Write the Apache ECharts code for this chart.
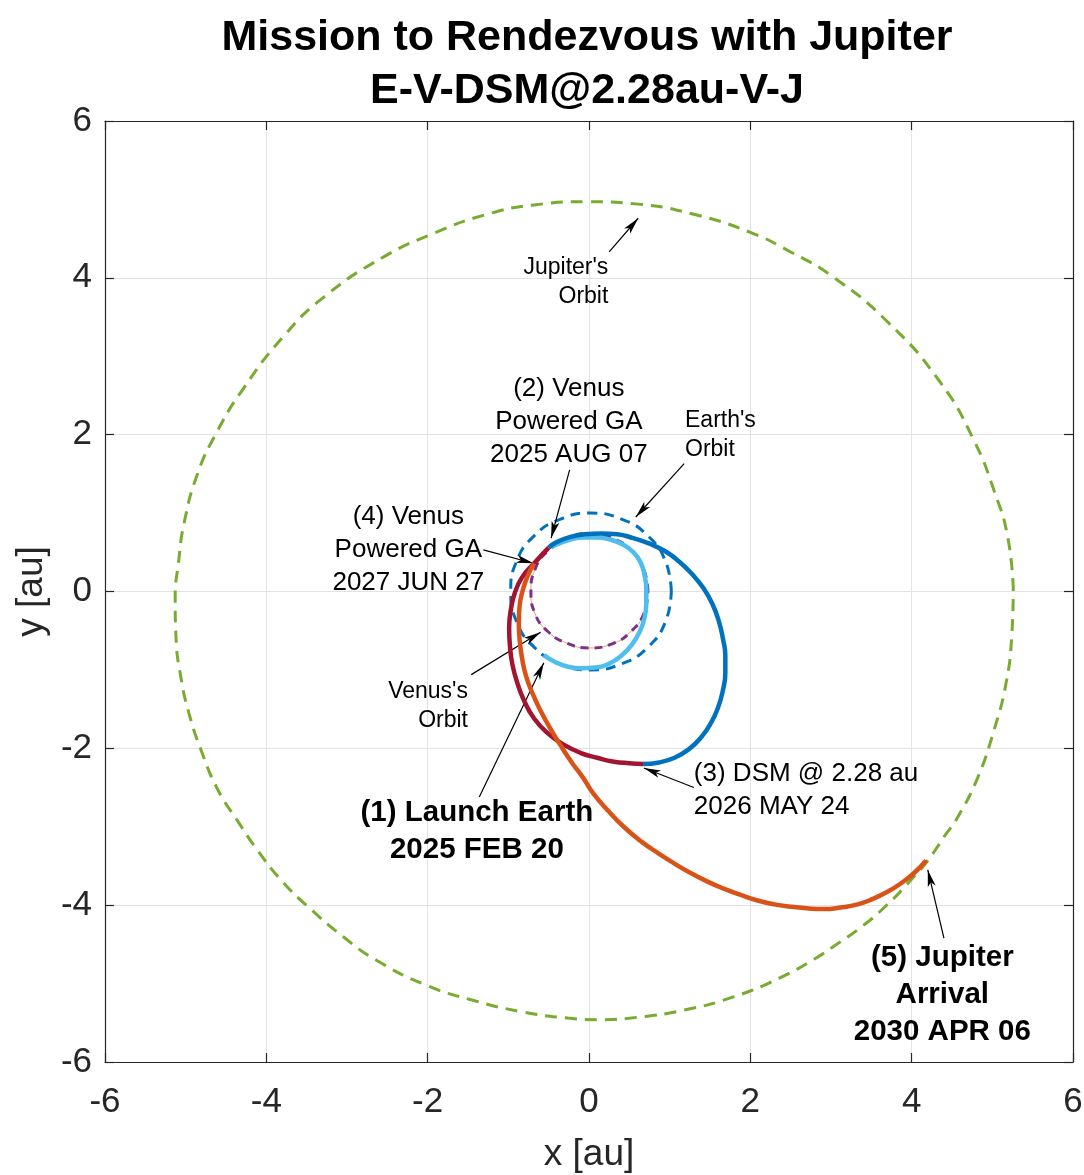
<!DOCTYPE html>
<html><head><meta charset="utf-8">
<script src="https://cdn.jsdelivr.net/npm/echarts@6/dist/echarts.min.js"></script>
<style>html,body{margin:0;padding:0;background:#fff}#c{width:1084px;height:1175px}</style>
</head><body><div id="c"></div>
<script>
// ---------- data (in au) ----------
const axisTicks = [-6, -4, -2, 0, 2, 4, 6];

const jupiterOrbit = [
  [5.26,0.02],[5.19,0.70],[5.02,1.29],[4.77,1.93],[4.36,2.66],[3.70,3.44],[3.00,4.03],[2.50,4.33],
  [2.00,4.58],[1.30,4.81],[0.61,4.94],[-0.01,4.97],[-0.68,4.93],[-1.30,4.80],[-1.92,4.57],[-2.54,4.27],
  [-3.28,3.76],[-3.79,3.25],[-4.31,2.55],[-4.62,2.02],[-4.85,1.51],[-5.02,0.87],[-5.09,0.36],
  [-5.13,-0.07],[-5.12,-0.58],[-5.06,-1.09],[-4.96,-1.55],[-4.81,-2.02],[-4.60,-2.53],[-4.34,-2.95],
  [-4.13,-3.27],[-3.80,-3.70],[-3.45,-4.05],[-3.05,-4.40],[-2.64,-4.70],[-2.02,-5.02],[-1.45,-5.21],
  [-0.83,-5.36],[-0.26,-5.44],[0.12,-5.46],[0.60,-5.43],[1.17,-5.34],[1.79,-5.17],[2.36,-4.93],
  [2.79,-4.69],[3.04,-4.52],[3.36,-4.29],[3.66,-4.03],[3.99,-3.68],[4.20,-3.43],[4.40,-3.13],
  [4.57,-2.88],[4.82,-2.37],[5.02,-1.77],[5.17,-1.17],[5.24,-0.58],[5.26,0.02]
];

const earthOrbit = [
  [1.02,0],[0.95,0.38],[0.73,0.71],[0.41,0.92],[0.02,1.00],[-0.36,0.92],[-0.68,0.71],[-0.90,0.38],
  [-0.97,0],[-0.90,-0.38],[-0.68,-0.71],[-0.36,-0.92],[0.02,-1.00],[0.41,-0.92],[0.73,-0.71],
  [0.95,-0.38],[1.02,0]
];

const venusOrbit = [
  [0.73,0],[0.68,0.28],[0.52,0.53],[0.28,0.68],[0,0.74],[-0.27,0.68],[-0.51,0.52],[-0.67,0.28],
  [-0.72,0],[-0.67,-0.28],[-0.51,-0.51],[-0.27,-0.66],[0,-0.72],[0.28,-0.67],[0.52,-0.51],
  [0.68,-0.28],[0.73,0]
];

const legLaunch = [
  [-0.56,-0.81],[-0.42,-0.90],[-0.26,-0.96],[-0.09,-0.98],[0.08,-0.97],[0.25,-0.92],[0.40,-0.82],
  [0.53,-0.68],[0.63,-0.51],[0.69,-0.33],[0.71,-0.15],[0.71,0.03],[0.69,0.20],[0.64,0.37],
  [0.55,0.50],[0.42,0.60],[0.27,0.66],[0.10,0.69],[-0.07,0.69],[-0.24,0.66],[-0.40,0.60],[-0.47,0.56]
];

const legToDSM = [
  [-0.50,0.56],[-0.40,0.63],[-0.25,0.69],[-0.05,0.73],[0.15,0.74],[0.35,0.73],[0.55,0.68],
  [0.75,0.61],[0.95,0.51],[1.12,0.38],[1.28,0.22],[1.42,0.04],[1.53,-0.16],[1.61,-0.38],
  [1.66,-0.60],[1.69,-0.82],[1.69,-1.04],[1.66,-1.26],[1.60,-1.48],[1.51,-1.68],[1.39,-1.86],
  [1.24,-2.01],[1.06,-2.12],[0.87,-2.18],[0.67,-2.20]
];

const legToVenus = [
  [0.67,-2.20],[0.50,-2.19],[0.31,-2.17],[0.10,-2.12],[-0.10,-2.06],[-0.32,-1.95],[-0.51,-1.81],
  [-0.68,-1.62],[-0.81,-1.38],[-0.89,-1.16],[-0.95,-0.93],[-0.98,-0.70],[-0.99,-0.47],
  [-0.97,-0.24],[-0.92,-0.02],[-0.83,0.18],[-0.68,0.36],[-0.50,0.56]
];

const legToJupiter = [
  [-0.68,0.36],[-0.76,0.20],[-0.82,0.02],[-0.86,-0.18],[-0.87,-0.40],[-0.86,-0.62],[-0.83,-0.85],
  [-0.78,-1.08],[-0.70,-1.30],[-0.60,-1.52],[-0.49,-1.73],[-0.36,-1.95],[-0.22,-2.17],[-0.07,-2.38],
  [0.05,-2.57],[0.24,-2.80],[0.43,-3.00],[0.65,-3.19],[0.86,-3.34],[1.06,-3.47],[1.26,-3.59],
  [1.47,-3.70],[1.67,-3.79],[1.88,-3.87],[2.09,-3.94],[2.30,-3.99],[2.50,-4.02],[2.70,-4.04],
  [2.91,-4.05],[3.12,-4.03],[3.33,-3.99],[3.52,-3.92],[3.70,-3.83],[3.87,-3.72],[4.03,-3.59],[4.18,-3.43]
];

const noteTexts = [
  "Jupiter's\nOrbit",
  "Earth's\nOrbit",
  "(2) Venus\nPowered GA\n2025 AUG 07",
  "(4) Venus\nPowered GA\n2027 JUN 27",
  "Venus's\nOrbit",
  "(1) Launch Earth\n2025 FEB 20",
  "(3) DSM @ 2.28 au\n2026 MAY 24",
  "(5) Jupiter\nArrival\n2030 APR 06"
];
const noteAnchors = [
  [0.24,3.94],[1.19,2.00],[-0.25,2.17],[-2.24,0.53],[-1.50,-1.46],[-1.39,-3.06],[1.30,-2.53],[4.38,-5.15]
];
const arrowTails = [
  [0.25,4.33],[1.18,1.63],[-0.24,1.55],[-1.31,0.53],[-1.46,-1.06],[-1.36,-2.62],[1.30,-2.50],[4.40,-4.42]
];
const arrowHeads = [
  [0.61,4.76],[0.58,0.95],[-0.47,0.68],[-0.69,0.36],[-0.60,-0.52],[-0.56,-0.91],[0.68,-2.25],[4.20,-3.55]
];

const titleLines = ['Mission to Rendezvous with Jupiter', 'E-V-DSM@2.28au-V-J'];

// ---------- styling ----------
const FONT = "'Liberation Sans', Arial, Helvetica, sans-serif";
const INK = '#262626';
const noteStyles = [
  {align:'right', size:23, lh:29, bold:false},
  {align:'left', size:23, lh:29, bold:false},
  {align:'center', size:26, lh:33, bold:false},
  {align:'center', size:26, lh:33, bold:false},
  {align:'right', size:23, lh:29, bold:false},
  {align:'center', size:29.5, lh:37, bold:true},
  {align:'left', size:26, lh:33, bold:false},
  {align:'center', size:29.5, lh:37, bold:true}
];

const chart = echarts.init(document.getElementById('c'), null, {renderer:'canvas'});

function axisCommon(extra) {
  return Object.assign({
    type:'value', min:axisTicks[0], max:axisTicks[axisTicks.length-1], interval:axisTicks[1]-axisTicks[0],
    axisLine:{show:true, onZero:false, lineStyle:{color:INK, width:1.2}},
    axisTick:{show:true, inside:true, length:9, lineStyle:{color:INK, width:1.2}},
    splitLine:{show:false},
    axisLabel:{show:false}
  }, extra);
}

function curve(name, data, color, width, dash, z) {
  return {
    name, type:'line', data, smooth:0.5, showSymbol:false, symbol:'none', z:z,
    lineStyle:{color, width, type:dash || 'solid', cap:'butt'},
    silent:true, animation:false
  };
}

const series = [
  curve('jupiter', jupiterOrbit, '#77AC30', 3, [12,8], 2),
  curve('earth', earthOrbit, '#0072BD', 3, [10,7], 3),
  curve('venusThin', venusOrbit, '#E8A070', 1, 'solid', 3),
  curve('venus', venusOrbit, '#7E2F8E', 3, [8,6], 4),
  curve('launch', legLaunch, '#4DBEEE', 4.5, null, 5),
  curve('toDSM', legToDSM, '#0072BD', 4.5, null, 6),
  curve('toVenus', legToVenus, '#A2142F', 4.5, null, 7),
  curve('toJupiter', legToJupiter, '#D95319', 4.5, null, 8),
  {
    name:'notes', type:'scatter', symbolSize:0, z:10, silent:true, animation:false,
    itemStyle:{color:'#000', opacity:1},
    data: noteTexts.map((t,i)=>({
      value: noteAnchors[i],
      label:{
        show:true, position:'inside', formatter:t, opacity:1,
        align:noteStyles[i].align, verticalAlign:'middle',
        fontSize:noteStyles[i].size, lineHeight:noteStyles[i].lh,
        fontWeight:noteStyles[i].bold ? 'bold' : 'normal',
        fontFamily:FONT, color:'#000', textBorderWidth:0, textBorderColor:'transparent'
      }
    })),
    markLine:{
      silent:true, animation:false, symbol:['none','arrow'], symbolSize:[6,17],
      label:{show:false},
      lineStyle:{color:'#000', width:1.2, type:'solid', opacity:1},
      emphasis:{disabled:true},
      data: arrowTails.map((t,i)=>[{coord:t},{coord:arrowHeads[i]}])
    }
  }
];

chart.setOption({
  animation:false,
  backgroundColor:'#fff',
  title:{
    text: titleLines.join('\n'), left:582, top:7, textAlign:'center',
    textStyle:{fontFamily:FONT, fontWeight:'bold', fontSize:43, lineHeight:53, color:'#000'}
  },
  grid:{left:105, right:11, top:121, bottom:113, outerBoundsMode:'none', show:false},
  xAxis:[
    axisCommon({
      position:'bottom', name:'x [au]', nameLocation:'middle', nameGap:74,
      nameTextStyle:{fontFamily:FONT, fontSize:37, color:INK},
      splitLine:{show:true, lineStyle:{color:'#e3e3e3', width:1}},
      axisLabel:{show:true, margin:23, fontFamily:FONT, fontSize:35, color:INK, showMinLabel:true, showMaxLabel:true}
    }),
    axisCommon({position:'top'})
  ],
  yAxis:[
    axisCommon({
      position:'left', name:'y [au]', nameLocation:'middle', nameGap:52, nameRotate:90,
      nameTextStyle:{fontFamily:FONT, fontSize:37, color:INK},
      splitLine:{show:true, lineStyle:{color:'#e3e3e3', width:1}},
      axisLabel:{show:true, margin:13, fontFamily:FONT, fontSize:35, color:INK, showMinLabel:true, showMaxLabel:true}
    }),
    axisCommon({position:'right'})
  ],
  series
});
</script>
</body></html>
